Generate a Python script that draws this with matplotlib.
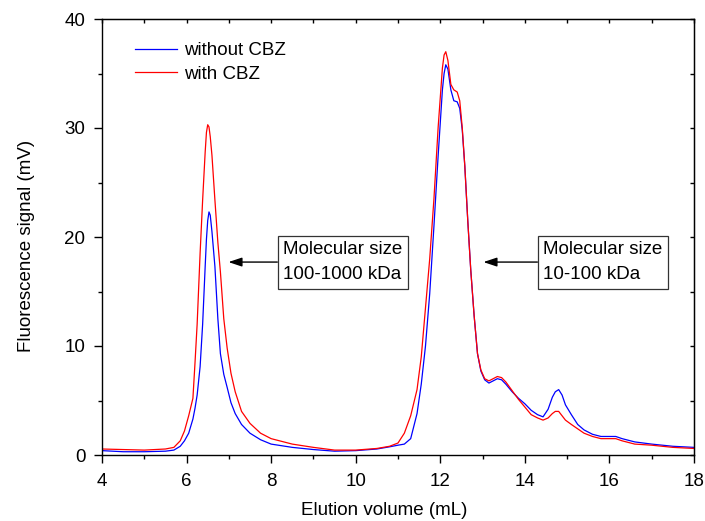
"""Fluorescence elution profile, with vs. without CBZ."""
import matplotlib

matplotlib.use("Agg")
import matplotlib.pyplot as plt
from matplotlib.ticker import MultipleLocator

plt.rcParams["font.family"] = ["Liberation Sans", "DejaVu Sans"]
plt.rcParams["font.size"] = 13.5

# elution volume (mL), shared by both traces
volume_ml = [
    4.0, 4.5, 5.0, 5.5, 5.7, 5.85, 5.95, 6.05, 6.15, 6.2, 6.25, 6.32, 6.38, 6.44,
    6.47, 6.50, 6.53, 6.56, 6.60, 6.67, 6.74, 6.80, 6.88, 6.96, 7.05, 7.15, 7.3,
    7.5, 7.75, 8.0, 8.5, 9.0, 9.5, 10.0, 10.5, 10.8, 11.0, 11.15, 11.3, 11.45,
    11.55, 11.65, 11.75, 11.85, 11.95, 12.05, 12.09, 12.13, 12.18, 12.25, 12.32,
    12.40, 12.46, 12.52, 12.58, 12.65, 12.72, 12.80, 12.88, 12.96, 13.05, 13.15,
    13.25, 13.35, 13.45, 13.55, 13.7, 13.85, 14.0, 14.15, 14.3, 14.43, 14.55,
    14.65, 14.72, 14.8, 14.88, 14.96, 15.1, 15.25, 15.4, 15.6, 15.8, 16.0, 16.15,
    16.3, 16.6, 17.0, 17.5, 18.0,
]

# signal (mV) without CBZ
signal_without = [
    0.4, 0.3, 0.3, 0.35, 0.45, 0.8, 1.3, 2.0, 3.3, 4.3, 5.5, 8.1, 12.0, 17.3,
    19.8, 21.5, 22.3, 22.0, 20.5, 17.3, 12.5, 9.3, 7.4, 6.2, 4.8, 3.8, 2.8,
    2.0, 1.4, 1.0, 0.7, 0.5, 0.35, 0.4, 0.55, 0.75, 0.9, 1.0, 1.5, 3.8,
    6.5, 10.0, 14.8, 21.0, 27.5, 33.5, 35.0, 35.8, 35.4, 33.5, 32.5,
    32.4, 31.8, 29.8, 26.5, 21.5, 17.0, 12.8, 9.3, 7.7, 6.9, 6.6,
    6.8, 7.0, 6.9, 6.5, 5.8, 5.2, 4.7, 4.1, 3.7, 3.5, 4.2,
    5.3, 5.8, 6.0, 5.5, 4.6, 3.7, 2.8, 2.3, 1.9, 1.7, 1.7, 1.7,
    1.5, 1.2, 1.0, 0.8, 0.7,
]

# signal (mV) with CBZ
signal_with = [
    0.55, 0.5, 0.45, 0.55, 0.7, 1.3, 2.2, 3.6, 5.2, 8.5, 12.0, 18.5, 23.4, 27.8,
    29.6, 30.3, 30.1, 29.2, 27.5, 23.4, 19.5, 16.8, 12.5, 9.8, 7.5, 5.8, 4.0,
    2.9, 2.0, 1.5, 1.0, 0.7, 0.45, 0.45, 0.6, 0.8, 1.1, 2.0, 3.6, 6.0,
    9.0, 13.5, 18.0, 23.5, 30.1, 35.5, 36.7, 37.0, 36.2, 34.0, 33.5,
    33.3, 32.5, 30.0, 26.5, 21.5, 17.0, 12.8, 9.3, 7.8, 7.0, 6.8,
    7.0, 7.2, 7.1, 6.7, 5.9, 5.1, 4.4, 3.7, 3.4, 3.2, 3.4,
    3.8, 4.0, 4.0, 3.6, 3.2, 2.8, 2.4, 2.0, 1.7, 1.5, 1.5, 1.5,
    1.3, 1.0, 0.9, 0.7, 0.6,
]

series_labels = ["without CBZ", "with CBZ"]
box_texts = ["Molecular size\n100-1000 kDa", "Molecular size\n10-100 kDa"]

fig = plt.figure(figsize=(7.05, 5.21), dpi=100)
ax = fig.add_axes([102 / 705, 1 - 455 / 521, 592 / 705, 436 / 521])

ax.plot(volume_ml, signal_without, color="#0000ff", lw=0.9, label=series_labels[0])
ax.plot(volume_ml, signal_with, color="#ff0000", lw=0.9, label=series_labels[1])

ax.set_xlim(4, 18)
ax.set_ylim(0, 40)
ax.xaxis.set_major_locator(MultipleLocator(2))
ax.xaxis.set_minor_locator(MultipleLocator(1))
ax.yaxis.set_major_locator(MultipleLocator(10))
ax.yaxis.set_minor_locator(MultipleLocator(5))
ax.tick_params(which="both", direction="out", top=False, right=False, width=1.0)
ax.tick_params(which="major", length=6)
ax.tick_params(which="minor", length=3)
ax.tick_params(axis="x", pad=7)
ax.tick_params(axis="y", pad=6)
for sp in ax.spines.values():
    sp.set_linewidth(1.0)

# Origin-style inward ticks on top and right, no labels
top = ax.secondary_xaxis("top")
top.xaxis.set_major_locator(MultipleLocator(2))
top.xaxis.set_minor_locator(MultipleLocator(1))
top.tick_params(which="both", direction="in", length=3, width=1.0, labeltop=False)
right = ax.secondary_yaxis("right")
right.yaxis.set_major_locator(MultipleLocator(10))
right.yaxis.set_minor_locator(MultipleLocator(5))
right.tick_params(which="both", direction="in", length=3, width=1.0, labelright=False)

ax.set_xlabel("Elution volume (mL)")
ax.xaxis.set_label_coords(0.476, -0.108)
ax.set_ylabel("Fluorescence signal (mV)")
ax.yaxis.set_label_coords(-0.113, 0.48)

ax.legend(
    loc="upper left",
    bbox_to_anchor=(0.0557, 0.947),
    frameon=False,
    borderpad=0,
    borderaxespad=0,
    handlelength=2.25,
    handletextpad=0.35,
    labelspacing=0.35,
)

box_style = dict(boxstyle="square,pad=0.3", fc="white", ec="#333333", lw=0.9)
arrow_style = dict(
    arrowstyle="-|>,head_length=0.6,head_width=0.2",
    color="black",
    lw=1.0,
    shrinkA=0,
    shrinkB=0,
    relpos=(0, 0.5),
)
ax.annotate(box_texts[0], xy=(6.99, 17.7), xytext=(8.29, 17.7),
            ha="left", va="center", linespacing=1.6,
            bbox=box_style, arrowprops=arrow_style)
ax.annotate(box_texts[1], xy=(13.02, 17.7), xytext=(14.44, 17.7),
            ha="left", va="center", linespacing=1.6,
            bbox=box_style, arrowprops=arrow_style)

fig.savefig("out.png", dpi=100)
